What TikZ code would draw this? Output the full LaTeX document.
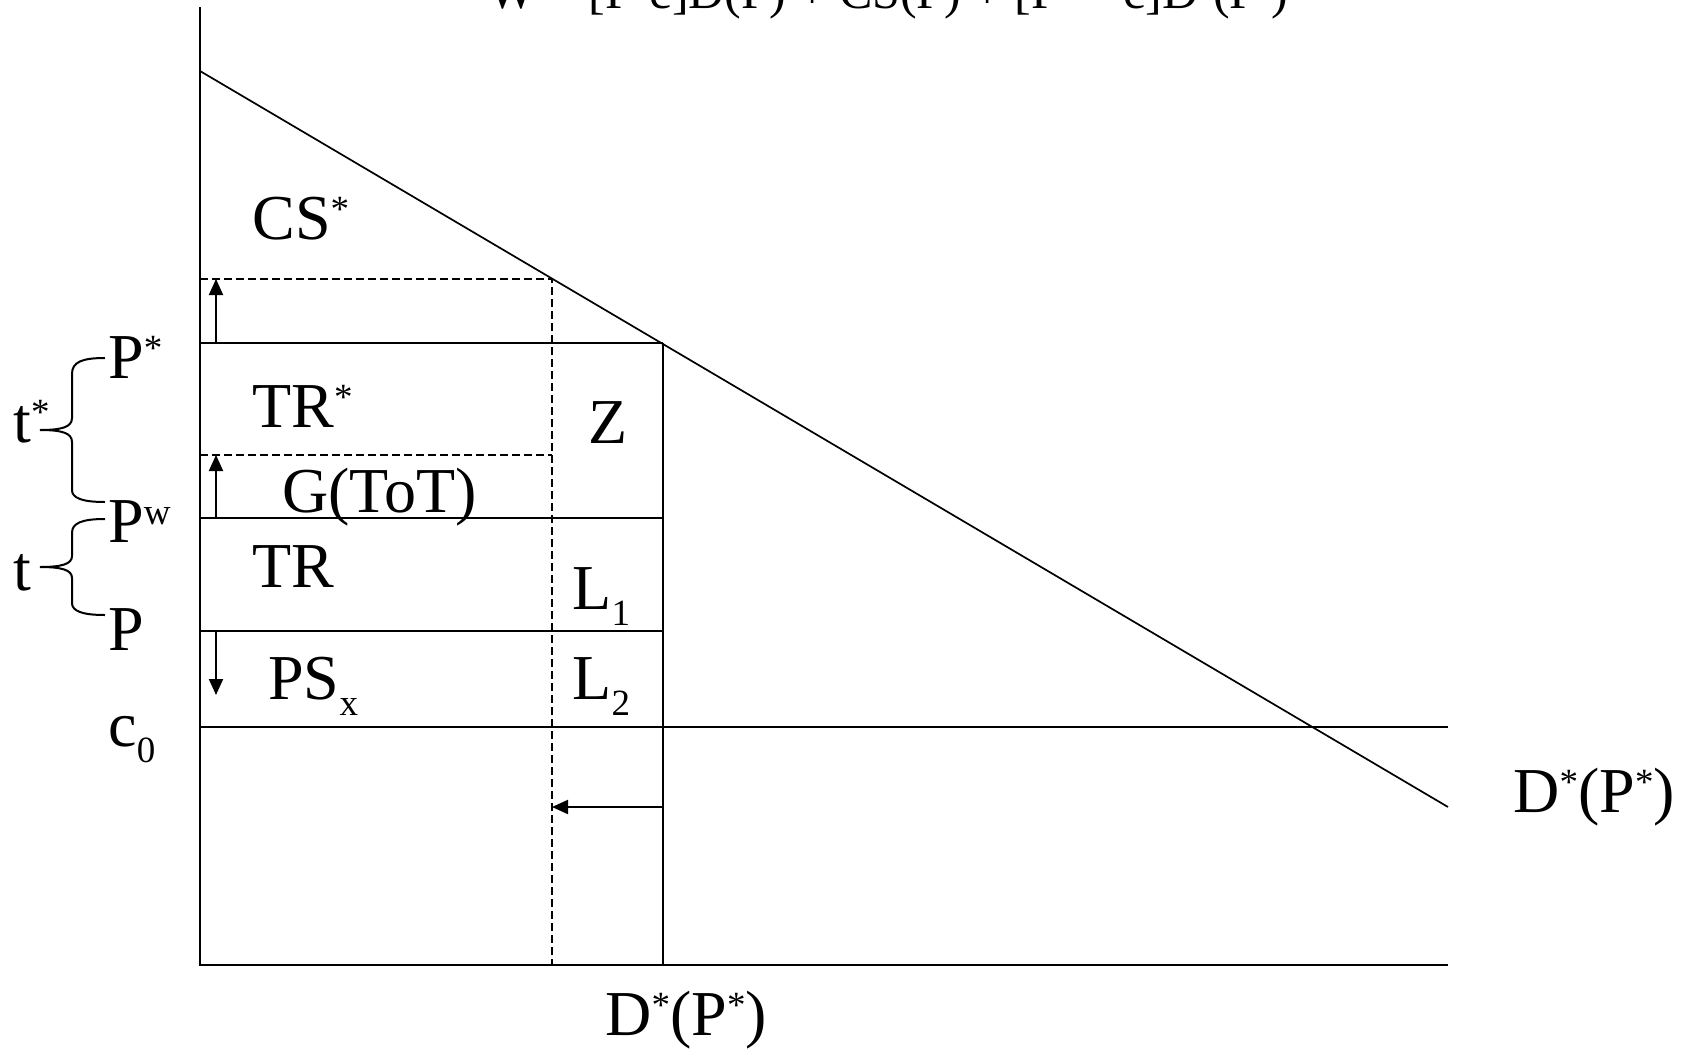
\documentclass[tikz,border=0pt]{standalone}
\usepackage{fontspec}
\setmainfont{Liberation Serif}
\usetikzlibrary{arrows.meta}
\newcommand\supx[1]{\raisebox{9pt}{\fontsize{18.5}{18.5}\selectfont #1}}
\newcommand\subx[1]{\raisebox{-8pt}{\fontsize{18.5}{18.5}\selectfont #1}}
\newcommand\supf[1]{\raisebox{7pt}{\fontsize{14.5}{14.5}\selectfont #1}}
\begin{document}
\begin{tikzpicture}[x=0.5pt,y=-0.5pt,
  ln/.style={line width=1pt},
  dl/.style={line width=0.85pt},
  dsh/.style={line width=0.9pt, dash pattern=on 4pt off 2pt},
  arr/.style={line width=1pt,-{Triangle[length=8pt,width=7pt]}},
  lbl/.style={anchor=base west, inner sep=0pt, font=\fontsize{32}{36}\selectfont},
  ttl/.style={anchor=base west, inner sep=0pt, font=\fontsize{25}{28}\selectfont},
  brc/.style={line width=1pt}]
\useasboundingbox (0,0) rectangle (1690,1049);
% key points
\coordinate (Ytop) at (200,7);
\coordinate (O) at (200,965);
\coordinate (Xend) at (1448,965);
\coordinate (Dtop) at (200,71);
\coordinate (Dend) at (1448,807);
\coordinate (Ps) at (200,343);
\coordinate (PsR) at (663,343);
\coordinate (Pw) at (200,518);
\coordinate (PwR) at (663,518);
\coordinate (Pp) at (200,631);
\coordinate (PpR) at (663,631);
\coordinate (C0) at (200,727);
\coordinate (C0R) at (1448,727);
\coordinate (VB) at (663,965);
\coordinate (Dsh1) at (200,279);
\coordinate (Dsh1R) at (552,279);
\coordinate (Dsh2) at (200,455);
\coordinate (Dsh2R) at (552,455);
\coordinate (DshB) at (552,965);
\coordinate (Au1s) at (216,343);
\coordinate (Au1e) at (216,279);
\coordinate (Au2s) at (216,518);
\coordinate (Au2e) at (216,455);
\coordinate (Ads) at (216,631);
\coordinate (Ade) at (216,695);
\coordinate (Als) at (663,807);
\coordinate (Ale) at (552,807);
% axes
\draw[ln] (Ytop) -- (O) -- (Xend);
% demand
\draw[dl] (Dtop) -- (Dend);
% horizontal solid lines
\draw[ln] (Ps) -- (PsR);
\draw[ln] (Pw) -- (PwR);
\draw[ln] (Pp) -- (PpR);
\draw[ln] (C0) -- (C0R);
\draw[ln] (PsR) -- (VB);
% dashed
\draw[dsh] (Dsh1) -- (Dsh1R) -- (DshB);
\draw[dsh] (Dsh2) -- (Dsh2R);
% arrows
\draw[arr] (Au1s) -- (Au1e);
\draw[arr] (Au2s) -- (Au2e);
\draw[arr] (Ads) -- (Ade);
\draw[arr] (Als) -- (Ale);
% braces
\draw[brc] (105,358) .. controls (82,358) and (72,362) .. (72,374) -- (72,418)
  .. controls (72,427) and (62,430) .. (40,430)
  .. controls (62,430) and (72,433) .. (72,442) -- (72,490)
  .. controls (72,498) and (82,502) .. (105,502);
\draw[brc] (105,519) .. controls (82,519) and (72,523) .. (72,533) -- (72,556)
  .. controls (72,564) and (62,567) .. (40,567)
  .. controls (62,567) and (72,570) .. (72,578) -- (72,603)
  .. controls (72,611) and (82,615) .. (105,615);
% labels
\node[ttl] (title) at (488,9) {W = [P-c]D(P) + CS(P) + [P\supf{*} – c]D\supf{*}(P\supf{*})};
\node[lbl] (cs) at (252,239) {CS\supx{*}};
\node[lbl] (trs) at (252,427) {TR\supx{*}};
\node[lbl] (z) at (588,443) {Z};
\node[lbl] (g) at (282,512) {G(ToT)};
\node[lbl] (tr) at (252,587) {TR};
\node[lbl] (l1) at (572,609) {L\subx{1}};
\node[lbl] (psx) at (268,699) {PS\subx{x}};
\node[lbl] (l2) at (572,699) {L\subx{2}};
\node[lbl] (pstar) at (108,378) {P\supx{*}};
\node[lbl] (tstar) at (13,442) {t\supx{*}};
\node[lbl] (pw) at (108,542) {P\supx{w}};
\node[lbl] (t) at (13,590) {t};
\node[lbl] (p) at (108,650) {P};
\node[lbl] (c0) at (108,746) {c\subx{0}};
\node[lbl] (dbot) at (605,1035) {D\supx{*}(P\supx{*})};
\node[lbl] (dright) at (1513,812) {D\supx{*}(P\supx{*})};
\end{tikzpicture}
\end{document}
